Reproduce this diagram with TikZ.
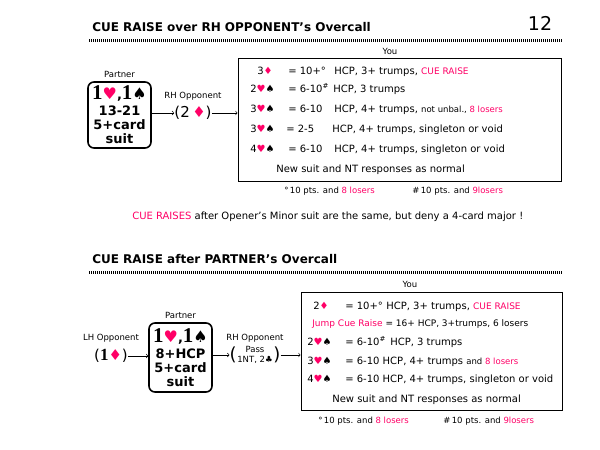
\documentclass[tikz,border=0pt]{standalone}
\usepackage{fontspec}
\setmainfont{DejaVu Sans}
\newfontfamily\serifnum{Liberation Serif}
\usetikzlibrary{positioning}
\definecolor{cue}{RGB}{255,0,102}
\tikzset{>=to}
\newcommand{\Hrt}{\textcolor{cue}{♥}}
\newcommand{\Spd}{♠}
\newcommand{\Dia}{\textcolor{cue}{♦}}
\newcommand{\Clb}{♣}
\newcommand{\bigone}{{\serifnum\fontsize{21}{21}\selectfont 1}}
\newcommand{\bigsuits}[1]{{\fontsize{16}{16}\selectfont #1}}
\tikzset{
  head/.style={anchor=base west, inner sep=0pt, font=\bfseries\fontsize{12}{14}\selectfont},
  dotrule/.style={line width=3pt, dash pattern=on 1pt off 1pt},
  txt/.style={anchor=base west, inner sep=0pt, font=\fontsize{10}{12}\selectfont},
  note/.style={anchor=base west, inner sep=0pt, font=\fontsize{8.5}{10}\selectfont},
  lbl/.style={inner sep=0pt, font=\fontsize{8.5}{10}\selectfont},
  bidbox/.style={draw, line width=1.6pt, rounded corners=6pt, align=center, inner sep=1pt,
    minimum width=63pt, font=\bfseries\fontsize{13}{14}\selectfont},
  youbox/.style={draw, line width=1pt, inner sep=0pt},
  callx/.style={inner sep=0pt, font=\fontsize{15}{17}\selectfont},
}

\begin{document}
\begin{tikzpicture}[x=1pt, y=-1pt, line width=0.6pt]
    \useasboundingbox (0,0) rectangle (600,450);

    % page heading
    \node[head] (t1) at (92,31) {CUE RAISE over RH OPPONENT’s Overcall};
    \node[inner sep=0pt, font=\fontsize{19}{19}\selectfont] (pg) at (540,23) {12};
    \draw[dotrule] (89,40.5) -- (563,40.5);

    % bidding, first part
    \node[bidbox, minimum height=66pt] (p1) at (119.5,115) {\bigone\bigsuits{\Hrt},\bigone\bigsuits{\Spd}\\[2pt]13-21\\5+card\\suit};
    \node[lbl, above=3pt of p1] (pl1) {Partner};
    \node[callx] (rh1) at (193,113) {(2\,\Dia)};
    \node[lbl, above=5pt of rh1] (rhl1) {RH Opponent};
    \node[youbox, minimum width=323pt, minimum height=123pt] (you1) at (399.5,119.5) {};
    \node[lbl] (yl1) at (390,51) {You};
    \draw[->] (rh1.west -| p1.east) -- (rh1.west);
    \draw[->] (rh1.east) -- (rh1.east -| you1.west);

    \node[txt] (a1) at (257,74) {3\Dia};
    \node[txt] (a1v) at (288,74) {= 10+°};
    \node[txt] (a1h) at (334,74) {HCP, 3+ trumps, {\fontsize{9}{10}\selectfont\color{cue}CUE RAISE}};
    \node[txt] (a2) at (250,92) {2\Hrt\Spd};
    \node[txt] (a2v) at (288,92) {= 6-10\textsuperscript{\#}};
    \node[txt] (a2h) at (333,92) {HCP, 3 trumps};
    \node[txt] (a3) at (250,112) {3\Hrt\Spd};
    \node[txt] (a3v) at (288,112) {= 6-10};
    \node[txt] (a3h) at (334,112) {HCP, 4+ trumps, {\fontsize{8.5}{10}\selectfont not unbal., \textcolor{cue}{8 losers}}};
    \node[txt] (a4) at (250,132) {3\Hrt\Spd};
    \node[txt] (a4v) at (286,132) {= 2-5};
    \node[txt] (a4h) at (332,132) {HCP, 4+ trumps, singleton or void};
    \node[txt] (a5) at (250,152) {4\Hrt\Spd};
    \node[txt] (a5v) at (288,152) {= 6-10};
    \node[txt] (a5h) at (334,152) {HCP, 4+ trumps, singleton or void};
    \node[txt] (a6) at (276,172) {New suit and NT responses as normal};
    \node[note] (f1a) at (284,193) {°\,10 pts. and \textcolor{cue}{8 losers}};
    \node[note] (f1b) at (412,193) {\#\,10 pts. and \textcolor{cue}{9losers}};

    \node[txt] (rem) at (132,219) {\textcolor{cue}{CUE RAISES} after Opener’s Minor suit are the same, but deny a 4-card major !};

    % second part
    \node[head] (t2) at (92,263) {CUE RAISE after PARTNER’s Overcall};
    \draw[dotrule] (89,272.5) -- (563,272.5);

    \node[bidbox, minimum height=69pt] (p2) at (180.5,357.5) {\bigone\bigsuits{\Hrt},\bigone\bigsuits{\Spd}\\[2pt]8+HCP\\5+card\\suit};
    \node[lbl, above=3pt of p2] (pl2) {Partner};
    \node[callx] (lh) at (111,356) {({\serifnum\bfseries\fontsize{17}{17}\selectfont 1}\Dia)};
    \node[lbl, above=6pt of lh] (lhl) {LH Opponent};
    \node[lbl, align=center, font=\fontsize{8.5}{10.5}\selectfont] (rh2) at (255,355) {Pass\\1NT, 2\Clb};
    \node[callx, font=\fontsize{18}{18}\selectfont, left=0pt of rh2] (rh2l) {(};
    \node[callx, font=\fontsize{18}{18}\selectfont, right=0pt of rh2] (rh2r) {)};
    \node[lbl, above=3pt of rh2] (rhl2) {RH Opponent};
    \node[youbox, minimum width=261pt, minimum height=118pt] (you2) at (431.5,351) {};
    \node[lbl] (yl2) at (410,284) {You};
    \draw[->] (lh.east) -- (lh.east -| p2.west);
    \draw[->] (rh2l.west -| p2.east) -- (rh2l.west);
    \draw[->] (rh2r.east) -- (rh2r.east -| you2.west);

    \node[txt] (b1) at (313,309) {2\Dia};
    \node[txt] (b1v) at (345,309) {= 10+°};
    \node[txt] (b1h) at (386,309) {HCP, 3+ trumps, {\fontsize{9}{10}\selectfont\color{cue}CUE RAISE}};
    \node[note, font=\fontsize{9}{10}\selectfont] (b2) at (312,326) {\textcolor{cue}{Jump Cue Raise} = 16+ HCP, 3+trumps, 6 losers};
    \node[txt] (b3) at (307,345) {2\Hrt\Spd};
    \node[txt] (b3v) at (345,345) {= 6-10\textsuperscript{\#}};
    \node[txt] (b3h) at (390,345) {HCP, 3 trumps};
    \node[txt] (b4) at (307,364) {3\Hrt\Spd};
    \node[txt] (b4v) at (345,364) {= 6-10 HCP, 4+ trumps {\fontsize{8.5}{10}\selectfont and \textcolor{cue}{8 losers}}};
    \node[txt] (b5) at (307,382) {4\Hrt\Spd};
    \node[txt] (b5v) at (345,382) {= 6-10 HCP, 4+ trumps, singleton or void};
    \node[txt] (b6) at (332,402) {New suit and NT responses as normal};
    \node[note] (f2a) at (318,423) {°\,10 pts. and \textcolor{cue}{8 losers}};
    \node[note] (f2b) at (443,423) {\#\,10 pts. and \textcolor{cue}{9losers}};
\end{tikzpicture}
\end{document}
